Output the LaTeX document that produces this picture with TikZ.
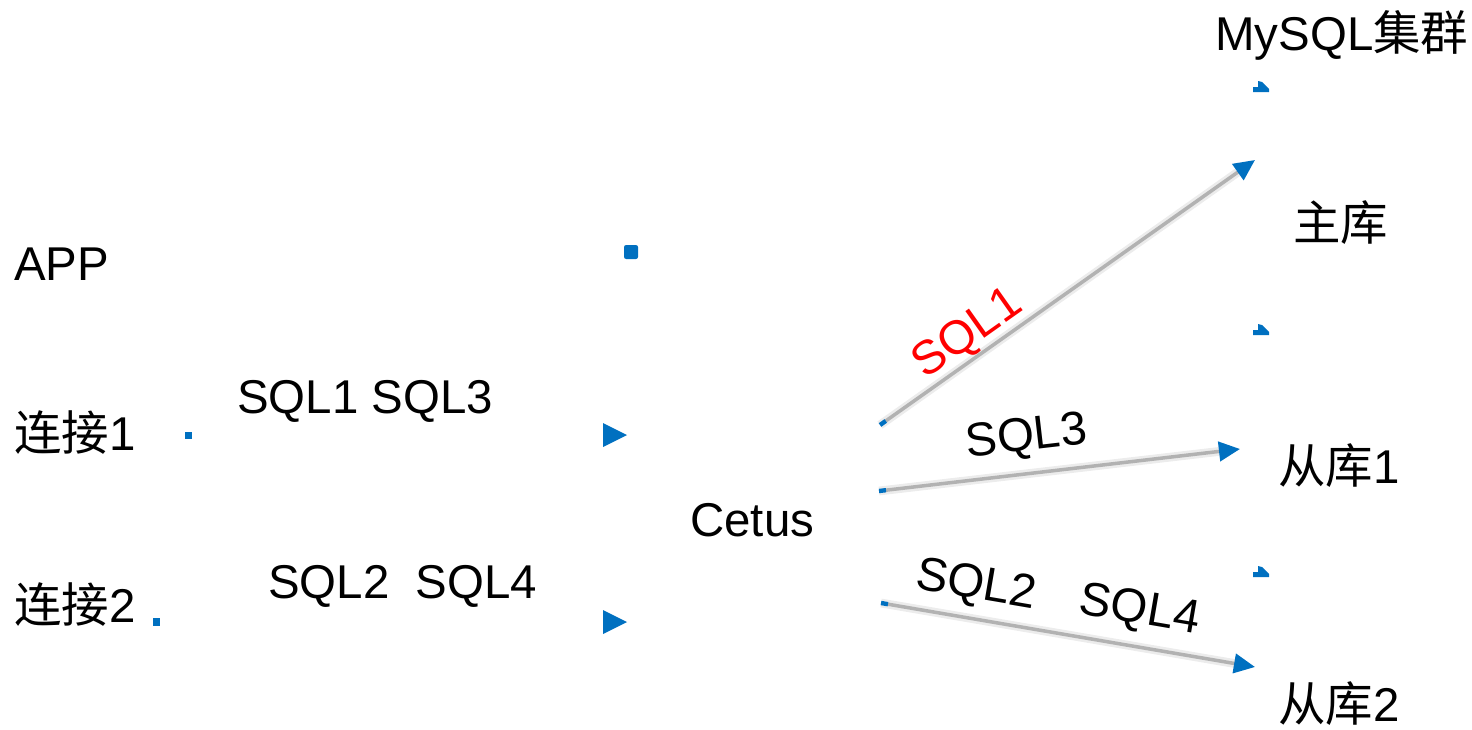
\documentclass[tikz,border=0pt]{standalone}
\usepackage{fontspec}
\setmainfont{Liberation Sans}
\newfontfamily\cjk{Noto Sans CJK SC}
\usetikzlibrary{arrows.meta}

\definecolor{markblue}{RGB}{0,112,192}
\definecolor{linkgray}{RGB}{178,178,178}

\tikzset{
  lbl/.style={inner sep=0pt, anchor=base west, font=\fontsize{27}{32}\selectfont},
  tag/.style={inner sep=0pt, sloped, font=\fontsize{27}{32}\selectfont},
  link/.style={draw=linkgray, line width=2pt,
    preaction={draw=gray!15, line width=5pt, arrows=-, shorten >=10pt},
    {Rectangle[length=4pt, width=2.5pt, color=markblue]}-{Triangle[length=12pt, width=11pt, color=markblue]}}
}

\begin{document}
\begin{tikzpicture}[x=0.02cm, y=-0.02cm]
            \useasboundingbox (0,0) rectangle (1472,730);

            \node[lbl] (mysql) at (1215,51) {MySQL{\cjk 集群}};
            \node[lbl] (master) at (1293,240) {\cjk 主库};
            \node[lbl] (slave1) at (1278,483) {{\cjk 从库}1};
            \node[lbl] (slave2) at (1278,721) {{\cjk 从库}2};

            \node[lbl] (app) at (14,280) {APP};
            \node[lbl] (conn1) at (14,450) {{\cjk 连接}1};
            \node[lbl] (conn2) at (14,622) {{\cjk 连接}2};
            \node[lbl] (sqlA) at (237,413) {SQL1 SQL3};
            \node[lbl] (sqlB) at (268,598) {SQL2\ \ SQL4};
            \node[lbl] (cetus) at (690,536) {Cetus};

            % marks left over from the boxes
            \fill[markblue, rounded corners=1.2pt] (624,245) rectangle (638,259);
            \fill[markblue] (185,432) rectangle (192,439);
            \fill[markblue] (153,618) rectangle (160,626);
            \fill[markblue] (603,423) -- (627,435) -- (603,447) -- cycle;
            \fill[markblue] (603,610) -- (627,622) -- (603,634) -- cycle;
            \foreach \y in {88,331,573}
              \fill[markblue] (1253,\y+4) -- (1253,\y-1) -- (1258,\y-1) -- (1258,\y-7)
                -- (1262,\y-6) -- (1269,\y+1) -- (1269,\y+4) -- cycle;

            % Cetus to the cluster
            \coordinate (out1) at (880,425);
            \coordinate (out3) at (879,491);
            \coordinate (out2) at (881,603);
            \coordinate (in1) at (1255,160);
            \coordinate (in3) at (1240,449);
            \coordinate (in2) at (1255,667);

            \draw[link] (out1) -- node[tag, above=0pt, pos=0.27, text=red] (lblA) {SQL1} (in1);
            \draw[link] (out3) -- node[tag, above=7pt, pos=0.42] (lblC) {SQL3} (in3);
            \draw[link] (out2) -- node[tag, above=5.5pt, pos=0.24] (lblB) {SQL2}
                                  node[tag, above=7pt, pos=0.675] (lblD) {SQL4} (in2);
        \end{tikzpicture}
\end{document}
